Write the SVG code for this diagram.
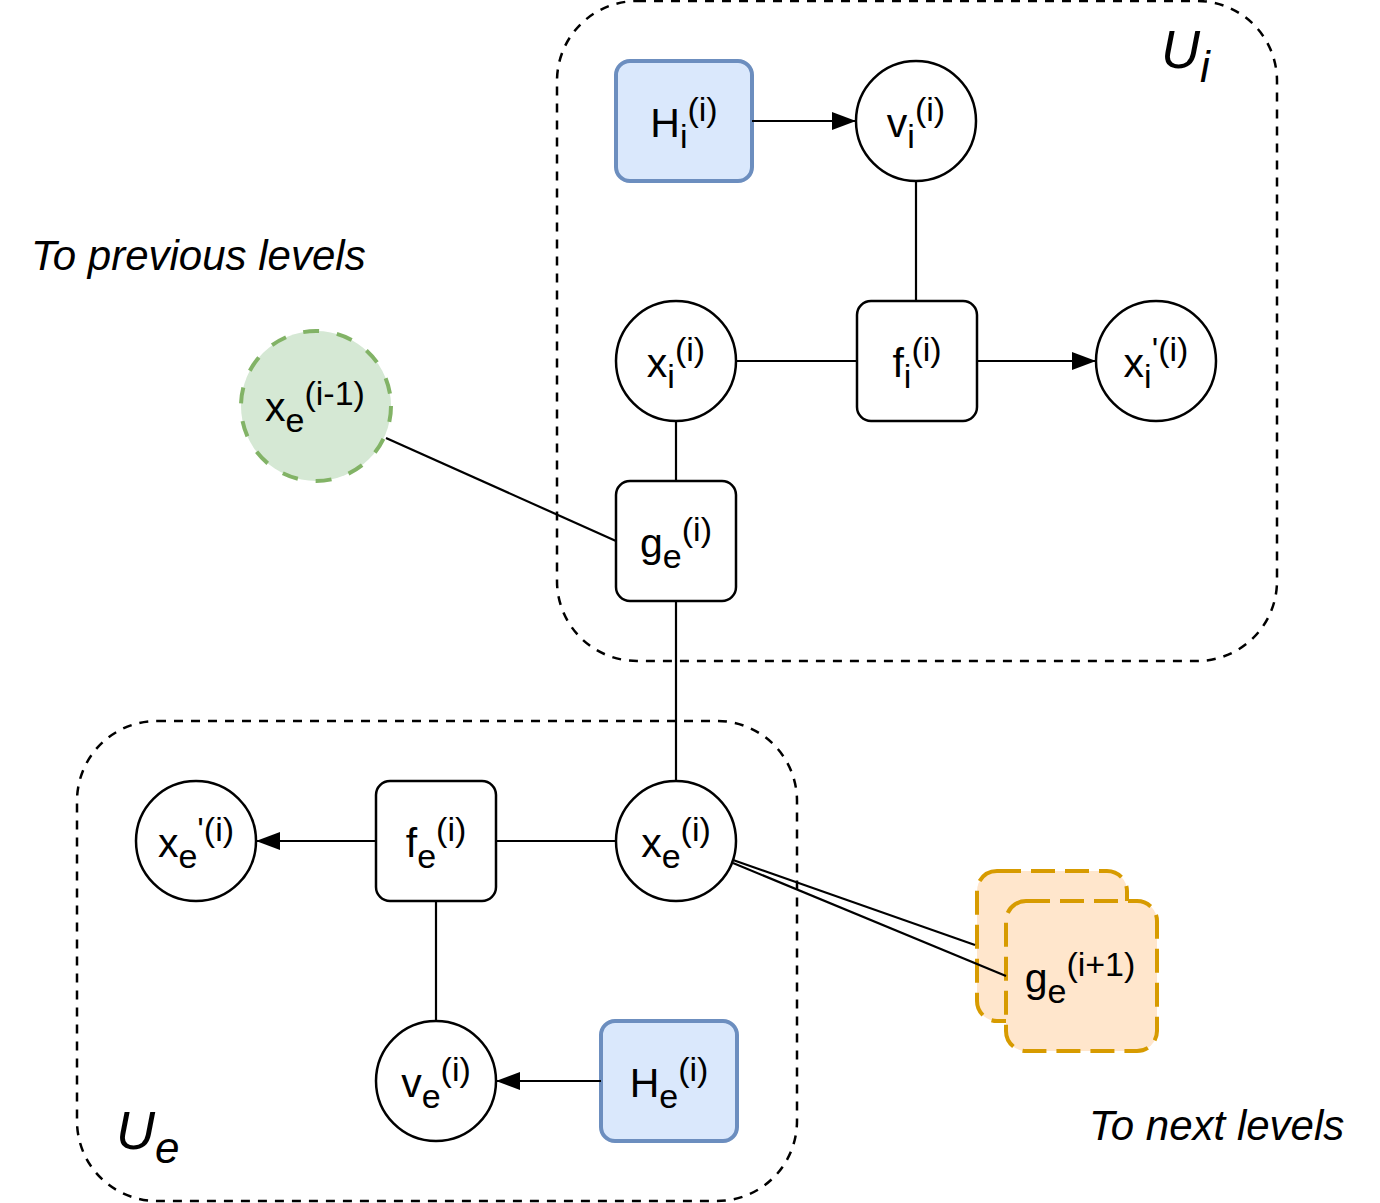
<svg xmlns="http://www.w3.org/2000/svg" width="1380" height="1203" viewBox="0 0 1380 1203">
<style>
text{font-family:"Liberation Sans",Arial,sans-serif;fill:#000}
.lbl{font-size:41px;text-anchor:middle}
.s{font-size:34px}
.it{font-style:italic;font-size:42px}
.grp{fill:none;stroke:#000;stroke-width:2.5;stroke-dasharray:9 8}
.n{fill:#fff;stroke:#000;stroke-width:2.5}
.blue{fill:#dae8fc;stroke:#6c8ebf;stroke-width:4}
.green{fill:#d5e8d4;stroke:#82b366;stroke-width:4;stroke-dasharray:16 18}
.orange{fill:#ffe6cc;stroke:#d79b00;stroke-width:4;stroke-dasharray:24 10}
.e{fill:none;stroke:#000;stroke-width:2.2}
</style>
<defs>
<marker id="arrow" viewBox="0 0 24 20" refX="24" refY="10" markerWidth="24" markerHeight="20" markerUnits="userSpaceOnUse" orient="auto">
<path d="M0,1 L24,10 L0,19 z" fill="#000"/>
</marker>
</defs>
<g id="group-Ui">
<rect class="grp" x="557" y="1" width="720" height="660" rx="80"/>
<text x="1161" y="68" style="font-style:italic;font-size:54px">U<tspan dy="14" style="font-size:44px">i</tspan></text>
</g>
<g id="group-Ue">
<rect class="grp" x="77" y="721" width="720" height="480" rx="80"/>
<text x="116" y="1149" style="font-style:italic;font-size:54px">U<tspan dy="14" style="font-size:44px">e</tspan></text>
</g>
<g id="text-prev"><text class="it" x="31" y="270">To previous levels</text></g>
<g id="text-next"><text class="it" x="1089" y="1140">To next levels</text></g>
<g id="node-Hi">
<rect class="blue" x="616" y="61" width="136" height="120" rx="14"/>
<text class="lbl" x="684" y="137">H<tspan class="s" dy="11">i</tspan><tspan class="s" dy="-27">(i)</tspan></text>
</g>
<g id="node-vi">
<circle class="n" cx="916" cy="121" r="60"/>
<text class="lbl" x="916" y="137">v<tspan class="s" dy="11">i</tspan><tspan class="s" dy="-27">(i)</tspan></text>
</g>
<g id="node-fi">
<rect class="n" x="857" y="301" width="120" height="120" rx="14"/>
<text class="lbl" x="917" y="377">f<tspan class="s" dy="11">i</tspan><tspan class="s" dy="-27">(i)</tspan></text>
</g>
<g id="node-xi">
<circle class="n" cx="676" cy="361" r="60"/>
<text class="lbl" x="676" y="377">x<tspan class="s" dy="11">i</tspan><tspan class="s" dy="-27">(i)</tspan></text>
</g>
<g id="node-xi-prime">
<circle class="n" cx="1156" cy="361" r="60"/>
<text class="lbl" x="1156" y="377">x<tspan class="s" dy="11">i</tspan><tspan class="s" dy="-27">'(i)</tspan></text>
</g>
<g id="node-ge">
<rect class="n" x="616" y="481" width="120" height="120" rx="14"/>
<text class="lbl" x="676" y="557">g<tspan class="s" dy="11">e</tspan><tspan class="s" dy="-27">(i)</tspan></text>
</g>
<g id="node-xe-prev">
<circle class="green" cx="316" cy="406" r="75"/>
<text class="lbl" x="315" y="421">x<tspan class="s" dy="11">e</tspan><tspan class="s" dy="-27">(i-1)</tspan></text>
</g>
<g id="node-xe">
<circle class="n" cx="676" cy="841" r="60"/>
<text class="lbl" x="676" y="857">x<tspan class="s" dy="11">e</tspan><tspan class="s" dy="-27">(i)</tspan></text>
</g>
<g id="node-fe">
<rect class="n" x="376" y="781" width="120" height="120" rx="14"/>
<text class="lbl" x="436" y="857">f<tspan class="s" dy="11">e</tspan><tspan class="s" dy="-27">(i)</tspan></text>
</g>
<g id="node-xe-prime">
<circle class="n" cx="196" cy="841" r="60"/>
<text class="lbl" x="196" y="857">x<tspan class="s" dy="11">e</tspan><tspan class="s" dy="-27">'(i)</tspan></text>
</g>
<g id="node-ve">
<circle class="n" cx="436" cy="1081" r="60"/>
<text class="lbl" x="436" y="1097">v<tspan class="s" dy="11">e</tspan><tspan class="s" dy="-27">(i)</tspan></text>
</g>
<g id="node-He">
<rect class="blue" x="601" y="1021" width="136" height="120" rx="14"/>
<text class="lbl" x="669" y="1097">H<tspan class="s" dy="11">e</tspan><tspan class="s" dy="-27">(i)</tspan></text>
</g>
<g id="node-ge-next">
<rect class="orange" x="977" y="871" width="150" height="150" rx="20"/>
<rect class="orange" x="1006" y="901" width="151" height="150" rx="20"/>
<text class="lbl" x="1080" y="992">g<tspan class="s" dy="11">e</tspan><tspan class="s" dy="-27">(i+1)</tspan></text>
</g>
<g id="connectors">
<line class="e" x1="752" y1="121" x2="856" y2="121" marker-end="url(#arrow)"/>
<line class="e" x1="916" y1="181" x2="916" y2="301"/>
<line class="e" x1="736" y1="361" x2="857" y2="361"/>
<line class="e" x1="977" y1="361" x2="1096" y2="361" marker-end="url(#arrow)"/>
<line class="e" x1="676" y1="421" x2="676" y2="481"/>
<line class="e" x1="386" y1="438" x2="616" y2="541"/>
<line class="e" x1="676" y1="601" x2="676" y2="781"/>
<line class="e" x1="616" y1="841" x2="496" y2="841"/>
<line class="e" x1="376" y1="841" x2="256" y2="841" marker-end="url(#arrow)"/>
<line class="e" x1="436" y1="901" x2="436" y2="1021"/>
<line class="e" x1="601" y1="1081" x2="496" y2="1081" marker-end="url(#arrow)"/>
<line class="e" x1="733" y1="860" x2="975" y2="945"/>
<line class="e" x1="733" y1="863" x2="1006" y2="976"/>
</g>
</svg>
